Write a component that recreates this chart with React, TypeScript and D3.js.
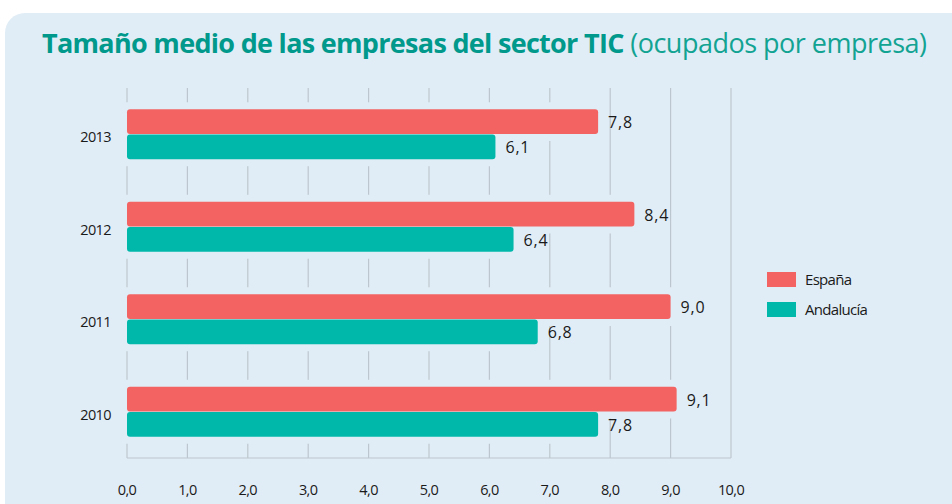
import React, { useEffect, useRef } from 'react';
import * as d3 from 'd3';

const years = ['2013', '2012', '2011', '2010'];
const espana = [7.8, 8.4, 9.0, 9.1];
const andalucia = [6.1, 6.4, 6.8, 7.8];
const seriesNames = ['España', 'Andalucía'];
const seriesColors = ['#f26362', '#00b8aa'];
const xTicks = [0, 1, 2, 3, 4, 5, 6, 7, 8, 9, 10];

const BG = '#e1edf6';
const fmt = (v: number) => v.toFixed(1).replace('.', ',');

const App = () => {
  const ref = useRef<SVGSVGElement>(null);

  useEffect(() => {
    const svg = d3.select(ref.current);
    svg.selectAll('*').remove();

    // panel
    svg
      .append('rect')
      .attr('x', 5)
      .attr('y', 13)
      .attr('width', 1100)
      .attr('height', 700)
      .attr('rx', 20)
      .attr('fill', BG);

    // title
    const title = svg
      .append('text')
      .attr('x', 42)
      .attr('y', 53)
      .style('font-family', 'Open Sans')
      .style('font-size', '27px')
      .attr('fill', '#00998b');
    title.append('tspan').style('font-weight', 700).attr('letter-spacing', '-0.7').text('Tamaño medio de las empresas del sector TIC');
    title.append('tspan').style('font-weight', 400).attr('fill', '#12a393').attr('letter-spacing', '-0.5').text(' (ocupados por empresa)');

    const x = d3.scaleLinear().domain([0, 10]).range([127, 731]);
    const y = d3.scaleBand().domain(years).range([88, 458]).paddingInner(0.46).paddingOuter(0.23);
    const inner = d3.scaleBand().domain(seriesNames).range([0, y.bandwidth()]).paddingInner(0.02);

    const g = svg.append('g');

    // grid lines
    g.selectAll('.grid')
      .data(xTicks)
      .enter()
      .append('line')
      .attr('x1', (d) => x(d))
      .attr('x2', (d) => x(d))
      .attr('y1', 88)
      .attr('y2', 458)
      .attr('stroke', '#bcc6ce')
      .attr('stroke-width', 1.2);

    g.append('line')
      .attr('x1', x(0))
      .attr('x2', x(10))
      .attr('y1', 458)
      .attr('y2', 458)
      .attr('stroke', '#bcc6ce')
      .attr('stroke-width', 1.2);

    const rows = years.map((yr, i) => ({ yr, vals: [espana[i], andalucia[i]] }));

    // halos behind bars
    rows.forEach((r) => {
      r.vals.forEach((v, j) => {
        g.append('rect')
          .attr('x', x(0) - 3)
          .attr('y', (y(r.yr) as number) + (inner(seriesNames[j]) as number) - 7)
          .attr('width', x(v) - x(0) + 10)
          .attr('height', inner.bandwidth() + 14)
          .attr('fill', BG);
      });
    });

    rows.forEach((r) => {
      r.vals.forEach((v, j) => {
        const by = (y(r.yr) as number) + (inner(seriesNames[j]) as number);
        g.append('rect')
          .attr('x', x(0))
          .attr('y', by)
          .attr('width', x(v) - x(0))
          .attr('height', inner.bandwidth())
          .attr('rx', 3)
          .attr('fill', seriesColors[j]);
        g.append('text')
          .attr('x', x(v) + 10)
          .attr('y', by + inner.bandwidth() / 2 + 1)
          .attr('dy', '0.35em')
          .attr('letter-spacing', '0.8')
          .style('font-family', 'Open Sans')
          .style('font-size', '16px')
          .attr('fill', '#1a1a1a')
          .text(fmt(v));
      });
      g.append('text')
        .attr('x', 111)
        .attr('y', (y(r.yr) as number) + y.bandwidth() / 2 + 3)
        .attr('dy', '0.35em')
        .attr('text-anchor', 'end')
        .attr('letter-spacing', '-0.6')
        .style('font-family', 'Open Sans')
        .style('font-size', '14.5px')
        .attr('fill', '#1a1a1a')
        .text(r.yr);
    });

    // x tick labels
    g.selectAll('.tick')
      .data(xTicks)
      .enter()
      .append('text')
      .attr('x', (d) => x(d))
      .attr('y', 490)
      .attr('dy', '0.35em')
      .attr('text-anchor', 'middle')
      .attr('letter-spacing', '-0.6')
      .style('font-family', 'Open Sans')
      .style('font-size', '14.5px')
      .attr('fill', '#1a1a1a')
      .text((d) => fmt(d));

    // legend
    const lg = svg.append('g').attr('transform', 'translate(767,272)');
    seriesNames.forEach((s, i) => {
      lg.append('rect')
        .attr('x', 0)
        .attr('y', i * 30)
        .attr('width', 29)
        .attr('height', 15)
        .attr('fill', seriesColors[i]);
      lg.append('text')
        .attr('x', 38)
        .attr('y', i * 30 + 8)
        .attr('dy', '0.35em')
        .attr('letter-spacing', '-0.7')
        .style('font-family', 'Open Sans')
        .style('font-size', '15px')
        .attr('fill', '#1a1a1a')
        .text(s);
    });
  }, []);

  return (
    <svg
      ref={ref}
      width={952}
      height={504}
      style={{ position: 'absolute', left: 0, top: 0, background: '#fff' }}
    />
  );
};

export default App;
